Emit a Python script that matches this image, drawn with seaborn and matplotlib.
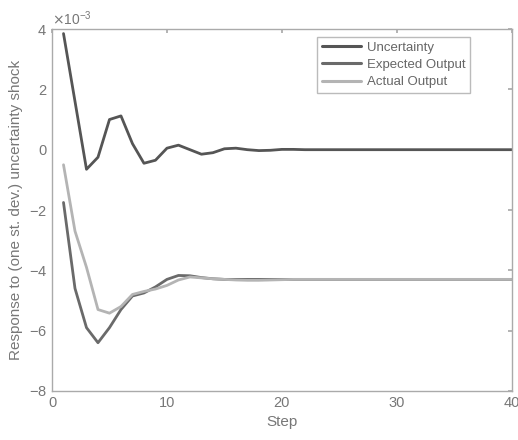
import numpy as np
import pandas as pd
import matplotlib
matplotlib.use("Agg")
import matplotlib.pyplot as plt
from matplotlib.ticker import ScalarFormatter
import seaborn as sns

steps = list(range(1, 41))
# values in units of 1e-3
uncertainty = [3.85, 1.6, -0.65, -0.25, 1.0, 1.12, 0.2, -0.45, -0.35, 0.05,
               0.15, 0.0, -0.15, -0.1, 0.03, 0.05, 0.0, -0.03, -0.02, 0.01,
               0.01, 0.0, 0.0, 0.0, 0.0, 0.0, 0.0, 0.0, 0.0, 0.0,
               0.0, 0.0, 0.0, 0.0, 0.0, 0.0, 0.0, 0.0, 0.0, 0.0]
expected = [-1.75, -4.6, -5.9, -6.4, -5.9, -5.3, -4.85, -4.75, -4.55, -4.3,
            -4.17, -4.18, -4.24, -4.28, -4.3, -4.3, -4.3, -4.3, -4.3, -4.3,
            -4.3, -4.3, -4.3, -4.3, -4.3, -4.3, -4.3, -4.3, -4.3, -4.3,
            -4.3, -4.3, -4.3, -4.3, -4.3, -4.3, -4.3, -4.3, -4.3, -4.3]
actual = [-0.5, -2.7, -3.9, -5.3, -5.42, -5.2, -4.8, -4.7, -4.62, -4.5,
          -4.32, -4.22, -4.25, -4.28, -4.3, -4.32, -4.33, -4.33, -4.32, -4.31,
          -4.3, -4.3, -4.3, -4.3, -4.3, -4.3, -4.3, -4.3, -4.3, -4.3,
          -4.3, -4.3, -4.3, -4.3, -4.3, -4.3, -4.3, -4.3, -4.3, -4.3]
series_names = ["Uncertainty", "Expected Output", "Actual Output"]
colors = ["#555555", "#6a6a6a", "#b4b4b4"]
scale = 1e-3

df = pd.concat([
    pd.DataFrame({"Step": steps, "value": np.array(v) * scale, "series": n})
    for n, v in zip(series_names, [uncertainty, expected, actual])
])

sns.set_theme(style="white")
plt.rcParams["font.family"] = ["Liberation Sans", "DejaVu Sans"]

fig = plt.figure(figsize=(5.18, 4.4), dpi=100)
ax = fig.add_axes([0.1004, 0.1114, 0.8876, 0.8226])

sns.lineplot(data=df, x="Step", y="value", hue="series", hue_order=series_names,
             palette=colors, linewidth=2.0, ax=ax)

ax.set_xlim(0, 40)
ax.set_ylim(-8e-3, 4e-3)
ax.set_xticks([0, 10, 20, 30, 40])
ax.set_yticks(np.arange(-8, 5, 2) * scale)
fmt = ScalarFormatter(useMathText=True)
fmt.set_powerlimits((-2, 2))
ax.yaxis.set_major_formatter(fmt)

gray = "#777777"
for s in ax.spines.values():
    s.set_color("#aaaaaa")
    s.set_linewidth(1.0)
ax.tick_params(direction="in", length=3, colors="#aaaaaa", labelcolor=gray,
               labelsize=10.5, top=True, right=True)
ax.yaxis.get_offset_text().set_color(gray)
ax.yaxis.get_offset_text().set_fontsize(10)

ax.set_xlabel("Step", color=gray, fontsize=11)
ax.set_ylabel("Response to (one st. dev.) uncertainty shock", color=gray, fontsize=11)

leg = ax.legend(loc="upper right", bbox_to_anchor=(0.909, 0.978), borderaxespad=0,
                frameon=True, fontsize=9.5, fancybox=False, handlelength=3.0,
                borderpad=0.35, labelspacing=0.38, handletextpad=0.4)
leg.get_frame().set_edgecolor("#aaaaaa")
leg.get_frame().set_linewidth(1.0)
for t in leg.get_texts():
    t.set_color("#666666")
for ln in leg.get_lines():
    ln.set_linewidth(2.2)

fig.savefig("out.png", dpi=100)
